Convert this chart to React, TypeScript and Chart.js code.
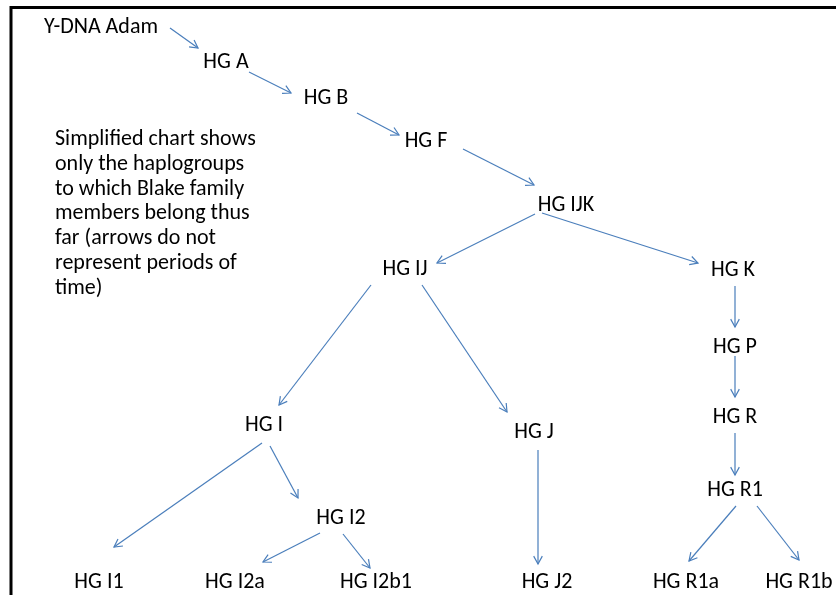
import React, { useEffect, useRef } from "react";
import { Chart, registerables } from "chart.js";

Chart.register(...registerables);

// Tree nodes: label, centre x, text baseline y (diagram units = pixels of the 836x595 sheet)
const nodeLabels = [
  "Y-DNA Adam", "HG A", "HG B", "HG F", "HG IJK", "HG IJ", "HG K", "HG P", "HG R", "HG R1",
  "HG I", "HG J", "HG I2", "HG I1", "HG I2a", "HG I2b1", "HG J2", "HG R1a", "HG R1b",
];
const nodeX = [101, 226, 326, 426, 566, 405, 733, 735, 735, 735, 264, 534, 341, 99, 235, 376, 547, 686, 799];
const nodeY = [33, 68, 104, 147, 211, 275, 276, 353, 423, 496, 431, 438, 524, 588, 588, 588, 588, 588, 588];

// Arrows (tail -> head)
const arrowTailX = [170, 249, 357, 463, 535, 542, 371, 422, 735, 735, 735, 262, 270, 320, 343, 538, 736, 757];
const arrowTailY = [28, 72, 113, 149, 214, 213, 285, 285, 286, 356, 433, 443, 446, 533, 534, 450, 506, 506];
const arrowHeadX = [198, 291, 399, 534, 437, 698, 279, 507, 735, 735, 735, 114, 298, 263, 370, 538, 689, 799];
const arrowHeadY = [48, 93, 135, 185, 263, 263, 405, 412, 327, 397, 475, 547, 498, 562, 568, 564, 561, 560];

// Side note
const noteLines = [
  "Simplified chart shows",
  "only the haplogroups",
  "to which Blake family",
  "members belong thus",
  "far (arrows do not",
  "represent periods of",
  "time)",
];
const noteX = 55;
const noteFirstBaseline = 145;
const noteLineHeight = 24.8;

const FONT = "22px Carlito, Lato, 'Liberation Sans', sans-serif";
const ARROW_COLOR = "#4a7ebb";

export default function App() {
  const ref = useRef<HTMLCanvasElement | null>(null);

  useEffect(() => {
    const canvas = ref.current;
    if (!canvas) return;

    const arrowSets = arrowTailX.map((_, i) => ({
      type: "scatter" as const,
      data: [
        { x: arrowTailX[i], y: arrowTailY[i] },
        { x: arrowHeadX[i], y: arrowHeadY[i] },
      ],
      showLine: true,
      borderColor: ARROW_COLOR,
      borderWidth: 1.2,
      pointRadius: 0,
      fill: false,
      clip: false as any,
    }));

    const nodeSet = {
      type: "scatter" as const,
      data: nodeX.map((x, i) => ({ x, y: nodeY[i] })),
      pointRadius: 0,
      showLine: false,
      clip: false as any,
    };

    const arrowCount = arrowSets.length;

    const diagramPlugin = {
      id: "diagram",
      beforeDraw(chart: any) {
        const { ctx, width, height } = chart;
        ctx.save();
        ctx.fillStyle = "#ffffff";
        ctx.fillRect(0, 0, width, height);
        ctx.restore();
      },
      afterDatasetsDraw(chart: any) {
        const { ctx } = chart;
        const xs = chart.scales.x;
        const ys = chart.scales.y;
        ctx.save();
        // frame
        ctx.strokeStyle = "#000";
        ctx.lineWidth = 3;
        ctx.beginPath();
        ctx.moveTo(xs.getPixelForValue(11), ys.getPixelForValue(595));
        ctx.lineTo(xs.getPixelForValue(11), ys.getPixelForValue(7.5));
        ctx.lineTo(xs.getPixelForValue(836), ys.getPixelForValue(7.5));
        ctx.stroke();

        // arrowheads
        ctx.strokeStyle = ARROW_COLOR;
        ctx.lineWidth = 1.2;
        for (let i = 0; i < arrowCount; i++) {
          const meta = chart.getDatasetMeta(i);
          const p0 = meta.data[0];
          const p1 = meta.data[1];
          const ang = Math.atan2(p1.y - p0.y, p1.x - p0.x);
          const len = 9;
          const spread = 0.5;
          ctx.beginPath();
          ctx.moveTo(p1.x - len * Math.cos(ang - spread), p1.y - len * Math.sin(ang - spread));
          ctx.lineTo(p1.x, p1.y);
          ctx.lineTo(p1.x - len * Math.cos(ang + spread), p1.y - len * Math.sin(ang + spread));
          ctx.stroke();
        }

        // node labels
        ctx.fillStyle = "#000";
        ctx.font = FONT;
        ctx.textAlign = "center";
        ctx.textBaseline = "alphabetic";
        const nm = chart.getDatasetMeta(arrowCount);
        nm.data.forEach((pt: any, i: number) => {
          ctx.fillText(nodeLabels[i], pt.x, pt.y);
        });

        // note
        ctx.textAlign = "left";
        noteLines.forEach((line, i) => {
          ctx.fillText(
            line,
            xs.getPixelForValue(noteX),
            ys.getPixelForValue(noteFirstBaseline + i * noteLineHeight)
          );
        });
        ctx.restore();
      },
    };

    const chart = new Chart(canvas, {
      type: "scatter",
      data: { datasets: [...arrowSets, nodeSet] as any },
      options: {
        animation: false,
        responsive: false,
        maintainAspectRatio: false,
        layout: { padding: 0 },
        events: [],
        plugins: { legend: { display: false }, tooltip: { enabled: false } },
        scales: {
          x: { type: "linear", min: 0, max: 836, display: false },
          y: { type: "linear", min: 0, max: 595, reverse: true, display: false },
        },
      },
      plugins: [diagramPlugin],
    });

    return () => chart.destroy();
  }, []);

  return (
    <div style={{ position: "absolute", left: 0, top: 0, width: 836, height: 595 }}>
      <canvas ref={ref} width={836} height={595} style={{ width: 836, height: 595, display: "block" }} />
    </div>
  );
}
